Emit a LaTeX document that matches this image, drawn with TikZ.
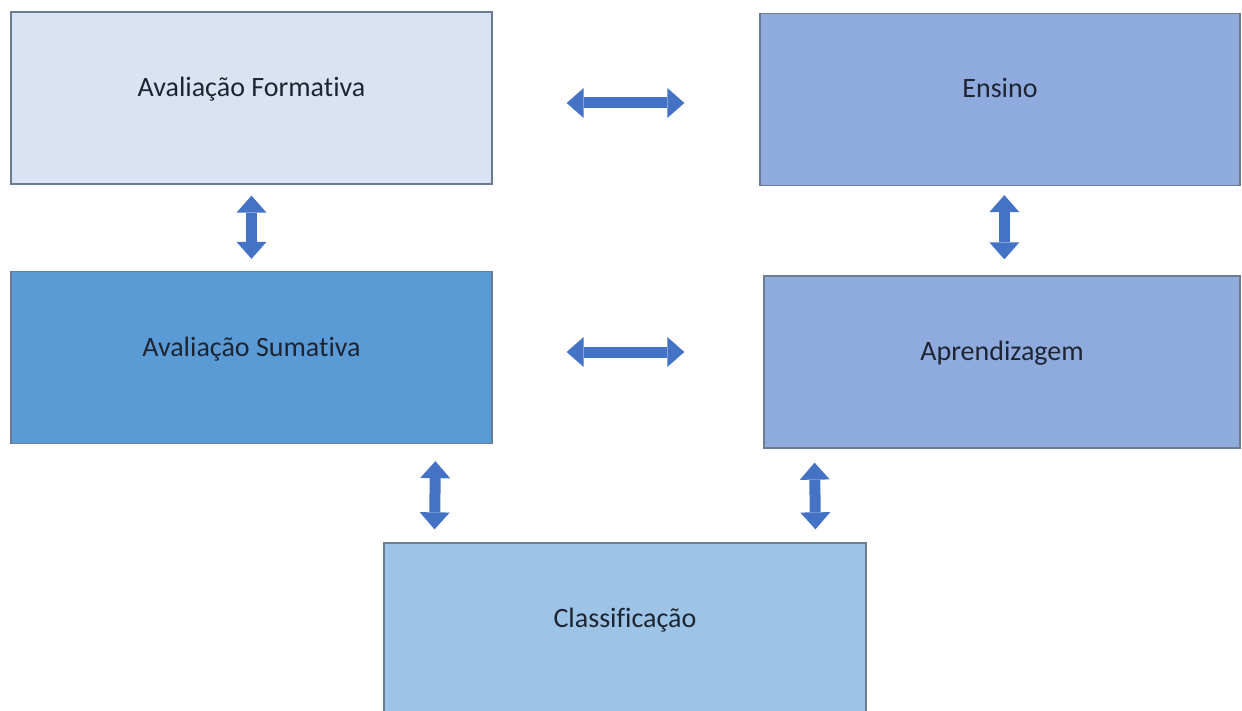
\documentclass[tikz,border=0pt]{standalone}
\usepackage{fontspec}
\setmainfont[RawFeature=-liga]{Carlito}
\usetikzlibrary{arrows.meta}

\definecolor{formFill}{HTML}{DAE3F3}
\definecolor{ensinoFill}{HTML}{8FAADC}
\definecolor{sumFill}{HTML}{5B9BD5}
\definecolor{classFill}{HTML}{9DC3E6}
\definecolor{boxBorder}{HTML}{6A7B92}
\definecolor{arrowBlue}{HTML}{4472C4}
\definecolor{textDark}{HTML}{1E2532}

\begin{document}
\begin{tikzpicture}
[x=1pt,y=-1pt,
 boxDecorate/.style={shape=rectangle,draw=boxBorder,line width=1.3pt,minimum height=172pt,
   inner sep=0pt,text height=24pt,text depth=27pt,text=textDark,font=\fontsize{28}{32}\selectfont},%
 arrowDecorate/.style={{Triangle[width=30pt,length=17pt,line width=0pt]}-{Triangle[width=30pt,length=17pt,line width=0pt]},
   line width=11pt,draw=arrowBlue}]
\useasboundingbox (0,0) rectangle (1242,711);
%% boxes
\foreach \nodename/\x/\y/\w/\c/\txt in {form/251.5/98/481/formFill/Avaliação Formativa,
    ensino/1000/99.5/480/ensinoFill/Ensino,
    sumat/251.5/357.5/481/sumFill/Avaliação Sumativa,
    aprend/1002/362/476/ensinoFill/Aprendizagem,
    classif/625/629/482/classFill/Classificação} {
  \node (\nodename) at (\x,\y) [boxDecorate,minimum width=\w pt,fill=\c] {\txt};
}
%% double arrows
\draw[arrowDecorate,shorten <=74pt,shorten >=75pt] ([yshift=-5pt]form.east) -- ([yshift=-3.5pt]ensino.west);
\draw[arrowDecorate,shorten <=74pt,shorten >=79pt] ([yshift=5.5pt]sumat.east) -- ([yshift=10pt]aprend.west);
\draw[arrowDecorate,shorten <=11pt,shorten >=12pt] (form.south) -- (sumat.north);
\draw[arrowDecorate,shorten <=9pt,shorten >=16pt] ([xshift=245pt]ensino.south west) -- ([xshift=241pt]aprend.north west);
\draw[arrowDecorate,shorten <=17pt,shorten >=13pt] ([xshift=-57pt]sumat.south east) -- ([xshift=51pt]classif.north west);
\draw[arrowDecorate,shorten <=14pt,shorten >=13pt] ([xshift=51pt]aprend.south west) -- ([xshift=-51pt]classif.north east);
\end{tikzpicture}
\end{document}
